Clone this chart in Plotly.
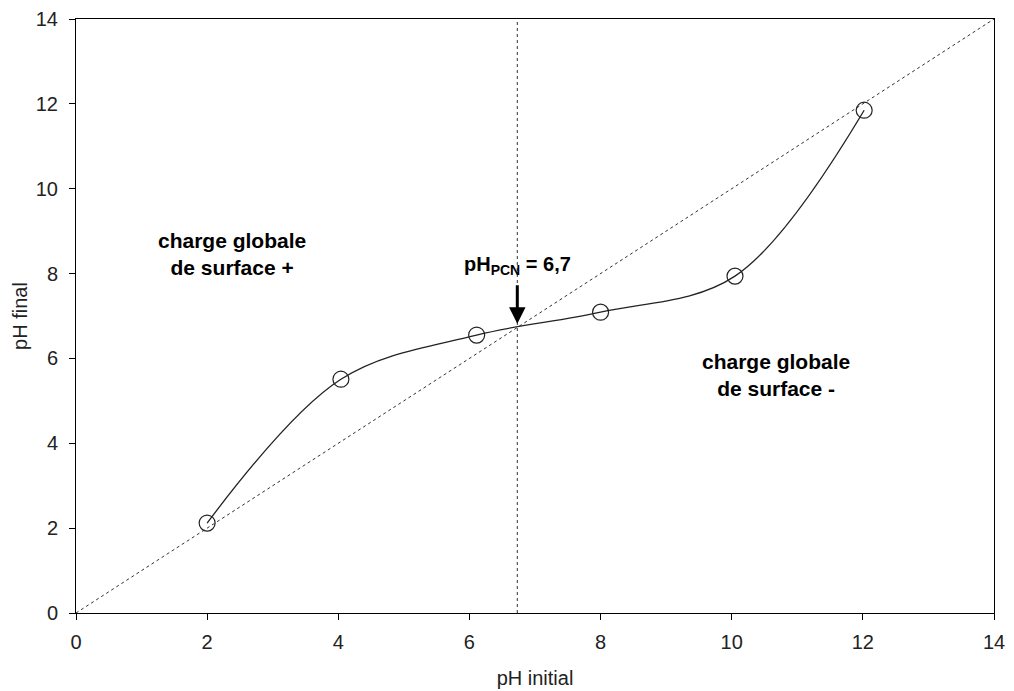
import plotly.graph_objects as go

# Data
ph_initial = [2.0, 4.04, 6.11, 8.0, 10.05, 12.02]
ph_final = [2.12, 5.51, 6.55, 7.09, 7.94, 11.85]
diag_x = [0, 14]
diag_y = [0, 14]
ph_pcn = 6.73
ph_pcn_y = 6.77
tick_vals = [0, 2, 4, 6, 8, 10, 12, 14]

font_family = "Liberation Sans, Arial, sans-serif"

fig = go.Figure()

# Diagonal y = x
fig.add_trace(go.Scatter(
    x=diag_x, y=diag_y, mode="lines",
    line=dict(color="#333333", width=1, dash="dot"),
    showlegend=False, hoverinfo="skip"))

# Vertical line at pH_PCN
fig.add_trace(go.Scatter(
    x=[ph_pcn, ph_pcn], y=[0, 14], mode="lines",
    line=dict(color="#333333", width=1, dash="dot"),
    showlegend=False, hoverinfo="skip"))

# Smoothed curve
fig.add_trace(go.Scatter(
    x=ph_initial, y=ph_final, mode="lines",
    line=dict(color="#222222", width=1.3, shape="spline", smoothing=1.0),
    showlegend=False, hoverinfo="skip"))

# Markers
fig.add_trace(go.Scatter(
    x=ph_initial, y=ph_final, mode="markers",
    marker=dict(symbol="circle-open", size=16, color="#222222", line=dict(width=1.2)),
    showlegend=False))

annotations = [
    dict(x=ph_pcn, y=ph_pcn_y, xref="x", yref="y", text="", showarrow=True,
         ax=0, ay=-42, arrowhead=2, arrowsize=1.1, arrowwidth=3, arrowcolor="black",
         standoff=2),
    dict(x=ph_pcn, y=8.2, xref="x", yref="y",
         text="<b>pH<sub>PCN</sub> = 6,7</b>", showarrow=False,
         font=dict(family=font_family, size=20, color="black")),
    dict(x=2.38, y=8.45, xref="x", yref="y",
         text="<b>charge globale<br>de surface +</b>", showarrow=False,
         font=dict(family=font_family, size=21, color="black")),
    dict(x=10.68, y=5.6, xref="x", yref="y",
         text="<b>charge globale<br>de surface -</b>", showarrow=False,
         font=dict(family=font_family, size=21, color="black")),
]

axis_common = dict(
    range=[0, 14], tickvals=tick_vals, ticks="outside", ticklen=6,
    tickcolor="black", showline=True, linecolor="black", linewidth=1,
    mirror=True, showgrid=False, zeroline=False, automargin=False,
    tickfont=dict(family=font_family, size=20, color="#222222"),
)

# The page body adds an 8px offset; size the figure so the plot area lands
# at x 76..994 and y 19..613 in the 1014x691 window.
fig.update_layout(
    width=998, height=683,
    margin=dict(l=68, r=12, t=11, b=78),
    paper_bgcolor="white", plot_bgcolor="white",
    xaxis=dict(**axis_common, ticklabelstandoff=5,
               title=dict(text="pH initial", standoff=18,
                          font=dict(family=font_family, size=20, color="#222222"))),
    yaxis=dict(**axis_common, ticklabelstandoff=7,
               title=dict(text="pH final", standoff=2,
                          font=dict(family=font_family, size=20, color="#222222"))),
    annotations=annotations,
    showlegend=False,
)

fig.write_html("out.html")
